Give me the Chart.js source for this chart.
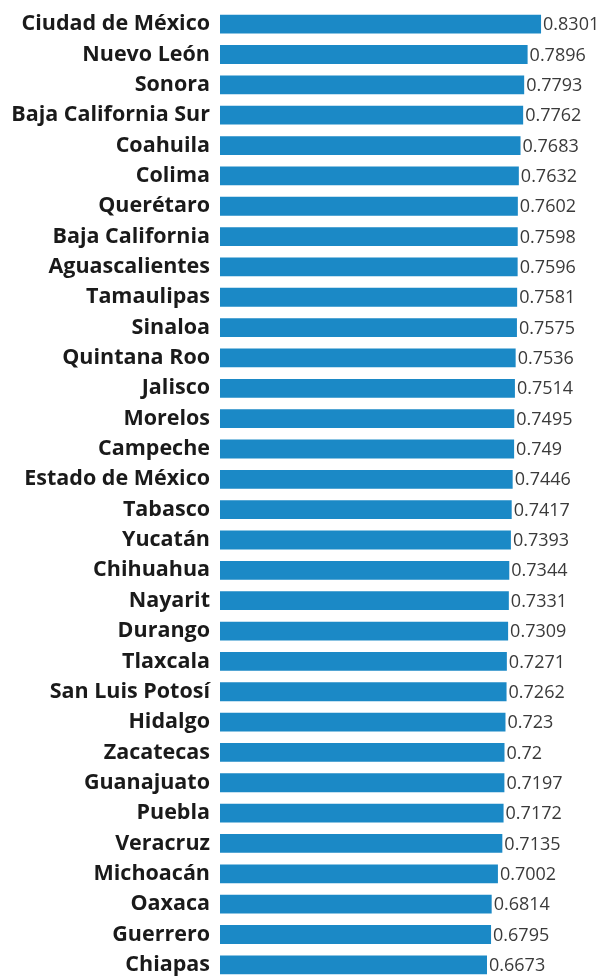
<!DOCTYPE html>
<html lang="es">
<head>
<meta charset="utf-8">
<title>Índice por entidad federativa</title>
<script src="https://cdn.jsdelivr.net/npm/chart.js@4.4.1/dist/chart.umd.min.js"></script>
<style>
    html, body {
        margin: 0;
        padding: 0;
        background: #ffffff;
        overflow: hidden;
    }
    canvas {
        display: block;
    }
</style>
</head>
<body>
<canvas id="canvas" width="603" height="980"></canvas>
<script>
const states = [
    "Ciudad de México", "Nuevo León", "Sonora", "Baja California Sur",
    "Coahuila", "Colima", "Querétaro", "Baja California",
    "Aguascalientes", "Tamaulipas", "Sinaloa", "Quintana Roo",
    "Jalisco", "Morelos", "Campeche", "Estado de México",
    "Tabasco", "Yucatán", "Chihuahua", "Nayarit",
    "Durango", "Tlaxcala", "San Luis Potosí", "Hidalgo",
    "Zacatecas", "Guanajuato", "Puebla", "Veracruz",
    "Michoacán", "Oaxaca", "Guerrero", "Chiapas",
];

const values = [
    0.8301, 0.7896, 0.7793, 0.7762,
    0.7683, 0.7632, 0.7602, 0.7598,
    0.7596, 0.7581, 0.7575, 0.7536,
    0.7514, 0.7495, 0.749, 0.7446,
    0.7417, 0.7393, 0.7344, 0.7331,
    0.7309, 0.7271, 0.7262, 0.723,
    0.72, 0.7197, 0.7172, 0.7135,
    0.7002, 0.6814, 0.6795, 0.6673,
];

// the value axis does not start at zero, bars grow from its left edge
const axisMin = -0.1369;
const axisMax = 1.0167;

// writes each value just past the end of its bar
const valueLabels = {
    id: "valueLabels",
    afterDatasetsDraw(chart) {
        const ctx = chart.ctx;
        const meta = chart.getDatasetMeta(0);
        ctx.save();
        ctx.font = "18px 'Open Sans'";
        ctx.fillStyle = "#3a3a3a";
        ctx.textAlign = "left";
        ctx.textBaseline = "middle";
        meta.data.forEach((bar, i) => {
            ctx.fillText(String(values[i]), bar.x + 2, bar.y + 1);
        });
        ctx.restore();
    },
};

function drawChart() {
    const ctx = document.getElementById("canvas").getContext("2d");

    new Chart(ctx, {
        type: "bar",
        data: {
            labels: states,
            datasets: [
                {
                    data: values,
                    base: axisMin,
                    backgroundColor: "#1b89c6",
                    borderWidth: 0,
                    barPercentage: 0.62,
                    categoryPercentage: 1,
                },
            ],
        },
        options: {
            indexAxis: "y",
            responsive: false,
            animation: false,
            layout: {
                padding: { top: 9, right: 0, bottom: 0, left: 0 },
            },
            plugins: {
                legend: { display: false },
                tooltip: { enabled: false },
            },
            scales: {
                x: {
                    display: false,
                    min: axisMin,
                    max: axisMax,
                },
                y: {
                    grid: { display: false, drawTicks: false },
                    border: { display: false },
                    ticks: {
                        color: "#1a1a1a",
                        padding: 10,
                        font: { family: "'Open Sans'", size: 21.5, weight: "bold" },
                    },
                    afterFit(scale) {
                        // keep the rows spread over the full height
                        scale.width = 220;
                        scale.paddingTop = 0;
                        scale.paddingBottom = 0;
                    },
                },
            },
        },
        plugins: [valueLabels],
    });
}

document.addEventListener("DOMContentLoaded", drawChart);
</script>
</body>
</html>
